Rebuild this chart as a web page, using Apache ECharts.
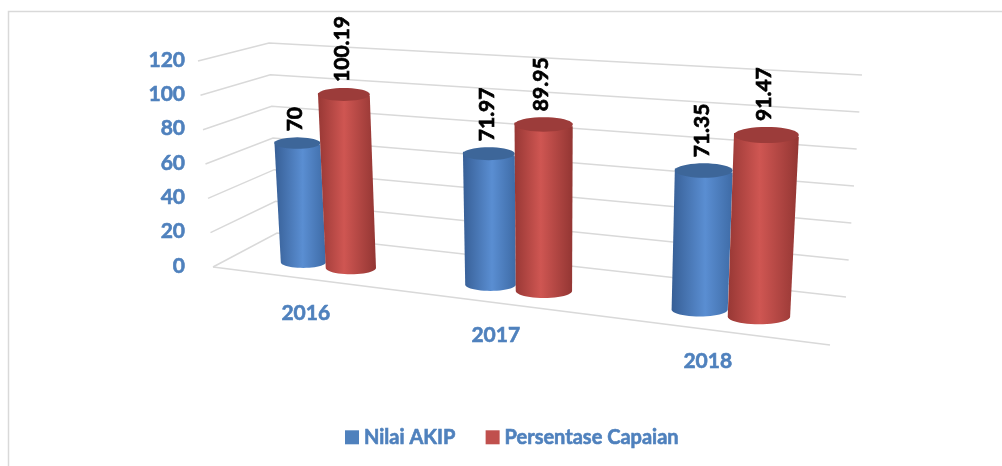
<!DOCTYPE html>
<html>
<head>
<meta charset="utf-8">
<title>Nilai AKIP</title>
<script src="https://cdn.jsdelivr.net/npm/echarts@6/dist/echarts.min.js"></script>
<style>
    html, body { margin: 0; padding: 0; background: #fff; }
    #chart { width: 1002px; height: 466px; }
</style>
</head>
<body>
<div id="chart"></div>
<script>
var categories = ['2016', '2017', '2018'];
var nilaiAkip = [70, 71.97, 71.35];
var persentaseCapaian = [100.19, 89.95, 91.47];
var yTicks = [0, 20, 40, 60, 80, 100, 120];

var FONT = 'Lato, "Open Sans", sans-serif';
var BLUE_TEXT = '#4f81bd';

// fake 3D perspective: u = 0..1 across the plot, h = flat height in px
function proj(cs, u, h) {
    var x0 = 239 + 504 * u + 99 * u * u;
    var y0 = cs.y + cs.height - 1 + (x0 - 326) * 0.119;
    var hh = h * (1 + (x0 - 326) * 0.00036);
    var lean = -0.05 + (x0 - 303) * 0.0002;
    return [x0 + lean * hh, y0 - hh];
}

function ellipsePts(c, rx, ry, from, to, n) {
    var pts = [];
    for (var k = 0; k <= n; k++) {
        var a = from + (to - from) * k / n;
        pts.push([c[0] + rx * Math.cos(a), c[1] + ry * Math.sin(a)]);
    }
    return pts;
}

function cylinder(side, stops, cap) {
    return function (params, api) {
        var cs = params.coordSys;
        var cat = api.value(0), val = api.value(1);
        var base = api.coord([cat, 0]);
        var top = api.coord([cat, val]);
        var uc = (base[0] - cs.x) / cs.width;
        var band = api.size([1, 0])[0] / cs.width;
        var uL = side < 0 ? uc - band * 0.255 : uc;
        var uR = side < 0 ? uc : uc + band * 0.276;
        var h = base[1] - top[1];
        var bl = proj(cs, uL, 0), br = proj(cs, uR, 0);
        var tl = proj(cs, uL, h), tr = proj(cs, uR, h);
        var bc = [(bl[0] + br[0]) / 2, (bl[1] + br[1]) / 2], rb = (br[0] - bl[0]) / 2;
        var tc = [(tl[0] + tr[0]) / 2, (tl[1] + tr[1]) / 2], rt = (tr[0] - tl[0]) / 2;
        var body = [tl].concat(ellipsePts(bc, rb, rb * 0.25, Math.PI, 0, 24)).concat([tr]);
        return {
            type: 'group',
            children: [
                {
                    type: 'polygon',
                    shape: { points: body },
                    style: { fill: new echarts.graphic.LinearGradient(0, 0, 1, 0, stops) }
                },
                {
                    type: 'polygon',
                    shape: { points: ellipsePts(tc, rt, rt * 0.25, 0, Math.PI * 2, 40) },
                    style: { fill: cap }
                },
                {
                    type: 'text',
                    x: tc[0] - 2,
                    y: tc[1] - rt * 0.25 - 6,
                    rotation: Math.PI / 2,
                    style: {
                        text: String(val),
                        fill: '#000',
                        stroke: '#000',
                        lineWidth: 0.7,
                        font: 'bold 21px ' + FONT,
                        align: 'left', textAlign: 'left',
                        verticalAlign: 'middle', textVerticalAlign: 'middle'
                    }
                }
            ]
        };
    };
}

var myChart = echarts.init(document.getElementById('chart'));
myChart.setOption({
    backgroundColor: '#fff',
    animation: false,
    graphic: [{
        type: 'rect',
        shape: { x: 8.5, y: 11.5, width: 1200, height: 600 },
        style: { fill: 'none', stroke: '#d9d9d9', lineWidth: 1.5 }
    }],
    legend: {
        left: 340,
        top: 422,
        icon: 'rect',
        itemWidth: 14,
        itemHeight: 14,
        itemGap: 30,
        textStyle: {
            color: BLUE_TEXT, fontWeight: 'bold', fontSize: 20, fontFamily: FONT,
            textBorderColor: BLUE_TEXT, textBorderWidth: 0.6
        },
        data: ['Nilai AKIP', 'Persentase Capaian']
    },
    grid: { left: 200, right: 156, top: 60, bottom: 200 },
    xAxis: { type: 'category', data: categories, show: false },
    yAxis: {
        type: 'value',
        min: 0,
        max: 120,
        interval: 20,
        axisLine: { show: false },
        axisTick: { show: false },
        splitLine: { show: false },
        axisLabel: {
            color: BLUE_TEXT, fontWeight: 'bold', fontSize: 21, fontFamily: FONT, margin: 15,
            textBorderColor: BLUE_TEXT, textBorderWidth: 0.6
        }
    },
    series: [
        {
            type: 'custom',
            z: 1,
            silent: true,
            data: yTicks.map(function (t) { return [0, t]; }),
            renderItem: function (params, api) {
                var cs = params.coordSys;
                var y = api.coord([0, api.value(1)])[1];
                var f = (cs.y + cs.height - y) / cs.height;
                var line = {
                    type: 'polyline',
                    shape: { points: [[213 - 15 * f, y + 1], [277 - 8 * f, 233 - 190 * f], [846 + 16 * f, 297 - 222 * f]] },
                    style: { stroke: '#d9d9d9', lineWidth: 1.5, fill: 'none' }
                };
                if (params.dataIndex !== 0) return line;
                return {
                    type: 'group',
                    children: [line, {
                        type: 'line',
                        shape: { x1: 213, y1: 267, x2: 830, y2: 345 },
                        style: { stroke: '#d9d9d9', lineWidth: 1.5 }
                    }]
                };
            }
        },
        {
            name: 'Nilai AKIP',
            type: 'custom',
            z: 2,
            itemStyle: { color: '#4f81bd' },
            data: nilaiAkip.map(function (v, i) { return [i, v]; }),
            renderItem: cylinder(-1, [
                { offset: 0, color: '#375f96' },
                { offset: 0.55, color: '#5a8ed2' },
                { offset: 1, color: '#3e6ba6' }
            ], '#3d6699')
        },
        {
            name: 'Persentase Capaian',
            type: 'custom',
            z: 2,
            itemStyle: { color: '#c0504d' },
            data: persentaseCapaian.map(function (v, i) { return [i, v]; }),
            renderItem: cylinder(1, [
                { offset: 0, color: '#983835' },
                { offset: 0.45, color: '#cf5652' },
                { offset: 1, color: '#933633' }
            ], '#9c3c3a')
        },
        {
            type: 'custom',
            z: 2,
            silent: true,
            data: categories.map(function (c, i) { return [i, 0]; }),
            renderItem: function (params, api) {
                var cs = params.coordSys;
                var base = api.coord([api.value(0), 0]);
                var p = proj(cs, (base[0] - cs.x) / cs.width, 0);
                return {
                    type: 'text',
                    x: p[0] - 20,
                    y: p[1] + 48,
                    style: {
                        text: categories[params.dataIndex],
                        fill: BLUE_TEXT,
                        stroke: BLUE_TEXT,
                        lineWidth: 0.6,
                        font: 'bold 21px ' + FONT,
                        align: 'center', textAlign: 'center',
                        verticalAlign: 'middle', textVerticalAlign: 'middle'
                    }
                };
            }
        }
    ]
});
</script>
</body>
</html>
